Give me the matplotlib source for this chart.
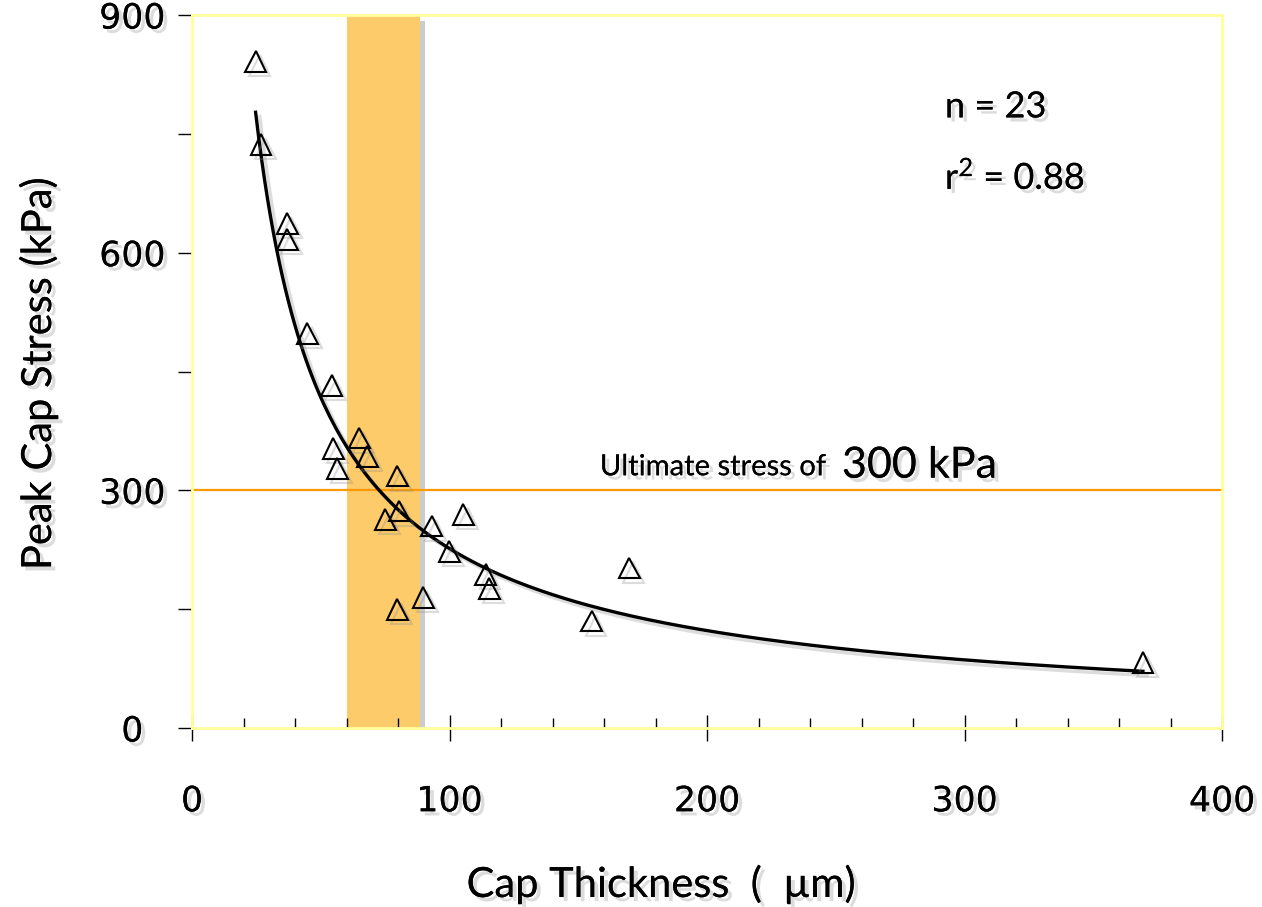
import numpy as np
import matplotlib
matplotlib.use("Agg")
import matplotlib.pyplot as plt
import matplotlib.patheffects as pe
from matplotlib.ticker import MultipleLocator

# data
cap_thickness = [24.7, 26.8, 37.0, 37.0, 44.8, 54.2, 54.9, 56.4, 64.9, 68.1, 79.7, 75.1,
                 80.5, 79.7, 89.8, 93.1, 99.9, 105.4, 114.1, 115.5, 155.3, 169.8, 369.3]
peak_stress = [841, 737, 637, 617, 498, 432, 353, 328, 366, 343, 318, 263,
               274, 150, 165, 255, 223, 270, 194, 176, 135, 202, 83]
band_range = (60, 88.5)
ultimate_stress = 300
x_ticks = [0, 100, 200, 300, 400]
y_ticks = [0, 300, 600, 900]

label_font = "Lato"
tick_font = "DejaVu Sans"

# power-law trendline fitted to the points (log-log least squares)
lx = np.log(cap_thickness)
ly = np.log(peak_stress)
b, log_a = np.polyfit(lx, ly, 1)
x_fit = np.linspace(min(cap_thickness), max(cap_thickness), 300)
y_fit = np.exp(log_a) * x_fit ** b

shadow = [pe.withSimplePatchShadow(offset=(3, -3), shadow_rgbFace="0.55", alpha=0.3),
          pe.Normal()]
line_shadow = [pe.SimpleLineShadow(offset=(3, -3), shadow_color="0.55", alpha=0.3),
               pe.Normal()]

fig = plt.figure(figsize=(12.62, 9.07), dpi=100)
ax = fig.add_axes([192 / 1262, 1 - 728 / 907, (1222 - 192) / 1262, (728 - 15) / 907])

ax.axvspan(band_range[0], band_range[1], color="#FDCB6A", lw=0, zorder=1,
           path_effects=[pe.withSimplePatchShadow(offset=(4, -4), shadow_rgbFace="0.5", alpha=0.4),
                         pe.Normal()])
ax.axhline(ultimate_stress, color="#FF9900", lw=1.6, zorder=2, clip_on=False)

ax.plot(x_fit, y_fit, color="black", lw=2.4, zorder=3, path_effects=line_shadow)
ax.plot(cap_thickness, peak_stress, linestyle="none", marker="^", ms=15,
        markerfacecolor="none", markeredgecolor="black", markeredgewidth=1.5, zorder=4,
        path_effects=line_shadow)

ax.set_xlim(0, 400)
ax.set_ylim(0, 900)

for sp in ax.spines.values():
    sp.set_color("#FFFF99")
    sp.set_linewidth(2)

ax.set_xticks(x_ticks)
ax.xaxis.set_minor_locator(MultipleLocator(20))
ax.set_yticks(y_ticks)
ax.yaxis.set_minor_locator(MultipleLocator(150))
ax.tick_params(axis="x", which="major", direction="inout", length=19, width=1,
               color="black", pad=31, labelsize=25)
ax.tick_params(axis="x", which="minor", direction="in", length=7.5, width=1, color="black")
ax.tick_params(axis="y", which="both", direction="out", length=10, width=1,
               color="black", pad=33, labelsize=25)
for lab in ax.get_xticklabels() + ax.get_yticklabels():
    lab.set_fontfamily(tick_font)
    lab.set_path_effects(shadow)
for lab in ax.get_yticklabels():
    lab.set_ha("center")

# annotations
ax.text(158.4, 319, "Ultimate stress of", fontsize=21, family=label_font,
        va="baseline", ha="left", path_effects=shadow)
ax.text(252.4, 316, "300 kPa", fontsize=31, family=label_font,
        va="baseline", ha="left", path_effects=shadow)
ax.text(292.4, 784, "n = 23", fontsize=26, family=label_font,
        va="center", ha="left", path_effects=shadow)
ax.text(292.4, 695, r"$\mathregular{r^2}$ = 0.88", fontsize=26, family=label_font,
        va="center", ha="left", path_effects=shadow)

fig.text(661 / 1262, 1 - 897 / 907, "Cap Thickness  (  \u00b5m)", fontsize=30,
         family=label_font, ha="center", va="baseline", path_effects=shadow)
fig.text(38 / 1262, 1 - 374 / 907, "Peak Cap Stress (kPa)", fontsize=30,
         family=label_font, rotation=90, ha="center", va="center", path_effects=shadow)

fig.savefig("out.png", dpi=100, facecolor="white")
